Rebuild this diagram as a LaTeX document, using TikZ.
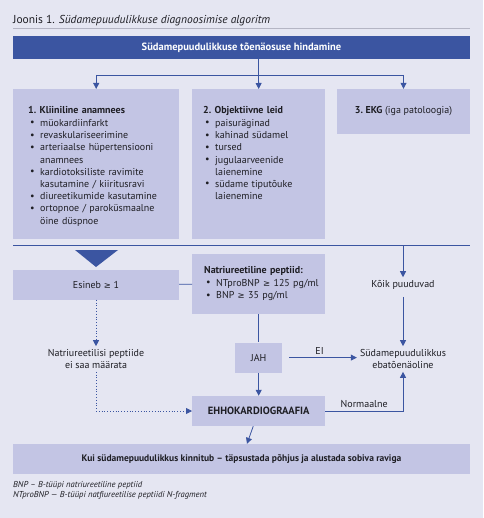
\documentclass[tikz,border=0pt]{standalone}
\usepackage{fontspec}
\setmainfont{PT Sans}
\newfontfamily\symfont{DejaVu Sans}
\usetikzlibrary{arrows.meta,positioning}
\definecolor{Page}{HTML}{E5E6F2}
\definecolor{Panel}{HTML}{C3C5E4}
\definecolor{Navy}{HTML}{3B55A1}
\definecolor{Ink}{HTML}{1E1E24}
\definecolor{Rule}{HTML}{B4B5C4}
\newcommand\bodysize{\fontsize{10}{12}\selectfont}
\newcommand\listsize{\fontsize{10}{12.2}\selectfont}
\newcommand\gte{{\symfont\fontsize{8.5}{12}\selectfont ≥}}
\newcommand\bul[1]{\noindent\hangindent=12pt\hangafter=1\makebox[12pt][l]{\hspace{2pt}\raisebox{0.6pt}{\textbullet}}#1\par}
\tikzset{
  headbar/.style={fill=Navy,text=white,font=\fontsize{10.5}{12}\selectfont\bfseries,minimum width=457pt,minimum height=23pt,inner sep=0pt},
  panel/.style={fill=Panel,anchor=north west,inner sep=0pt},
  box/.style={fill=Panel,font=\bodysize,text=Ink,align=center,inner sep=3pt},
  listtext/.style={anchor=north west,inner sep=0pt,text width=150pt,align=left,font=\listsize,text=Ink},
  plaintext/.style={font=\bodysize,text=Ink,align=center,inner sep=3pt},
  link/.style={draw=Navy,line width=0.8pt},
  arr/.style={link,-{Triangle[length=6pt,width=6pt]}},
  dotarr/.style={arr,dotted}
}

\begin{document}
\begin{tikzpicture}[x=1pt,y=-1pt,node distance=23pt]
  \fill[Page] (0,0) rectangle (483,518);
  \useasboundingbox (0,0) rectangle (483,518);
  \node[anchor=base west,inner sep=0pt,font=\fontsize{11.5}{12}\selectfont,text=Ink] (title) at (13,24) {Joonis 1. \textit{Südamepuudulikkuse diagnoosimise algoritm}};
  \draw[Rule,line width=0.6pt] (title.base west |- 0,28.5) -- (470,28.5);
  \node[headbar] (bar) at (241.5,47.5) {Südamepuudulikkuse tõenäosuse hindamine};
  % three entry boxes
  \node[panel,minimum width=166pt,minimum height=150pt] (anam) at (13,89) {};
  \node[panel,minimum width=133pt,minimum height=150pt] (obj) at (192,89) {};
  \node[box,minimum width=133pt,minimum height=45pt] (ekg) at (403.5,111.5) {\textbf{3.\ EKG} (iga patoloogia)};
  \node[listtext] (anamtext) at (28,106) {\textbf{1.\ Kliiniline anamnees}\par\vspace{1pt}
    \bul{müokardiinfarkt}
    \bul{revaskulariseerimine}
    \bul{arteriaalse hüpertensiooni\newline anamnees}
    \bul{kardiotoksiliste ravimite\newline kasutamine / kiiritusravi}
    \bul{diureetikumide kasutamine}
    \bul{ortopnoe / paroküsmaalne\newline öine düspnoe}};
  \node[listtext,text width=120pt] (objtext) at (203,106) {\textbf{2.\ Objektiivne leid}\par\vspace{1pt}
    \bul{paisuräginad}
    \bul{kahinad südamel}
    \bul{tursed}
    \bul{jugulaarveenide\newline laienemine}
    \bul{südame tiputõuke\newline laienemine}};
  \coordinate (split) at (258.5,75);
  \draw[link] (bar.south -| split) -- (split);
  \draw[link] (split -| anam.north) -- (split -| ekg.north);
  \draw[arr] (split -| anam.north) -- (anam.north);
  \draw[arr] (split) -- (obj.north);
  \draw[arr] (split -| ekg.north) -- (ekg.north);
  % lower half
  \coordinate (sepw) at (13,245.5);
  \coordinate (sepe) at (470,245.5);
  \draw[Navy,line width=1.8pt] (sepw) -- (sepe);
  \fill[Navy] (75,250) -- (118,250) -- (96,267) -- cycle;
  \node[box,minimum width=166pt,minimum height=30pt] (esineb) at (96,284.5) {Esineb \gte{} 1};
  \node[panel,minimum width=133pt,minimum height=60pt] (natri) at (192,254) {};
  \node[listtext,text width=120pt] (natritext) at (204,266) {\textbf{Natriureetiline peptiid:}\par\vspace{1pt}
    \bul{NTproBNP \gte{} 125 pg/ml}
    \bul{BNP \gte{} 35 pg/ml}};
  \node[box,minimum width=47pt,minimum height=30pt,below=28pt of natri] (jah) {JAH};
  \node[box,minimum width=133pt,minimum height=30pt,font=\fontsize{10.5}{12}\selectfont\bfseries,below=of jah] (echo) {EHHOKARDIOGRAAFIA};
  \node[box,minimum width=457pt,minimum height=30pt,font=\fontsize{9.5}{12}\selectfont\bfseries] (final) at (241.5,459) {Kui südamepuudulikkus kinnitub – täpsustada põhjus ja alustada sobiva raviga};
  \node[plaintext] (koik) at (403,285) {Kõik puuduvad};
  \node[plaintext] (ebat) at (403,359) {Südamepuudulikkus\\ebatõenäoline};
  \node[plaintext] (nopep) at (96,359) {Natriureetilisi peptiide\\ei saa määrata};
  \node[anchor=north west,inner sep=0pt,align=left,text=Ink,font=\fontsize{8.6}{10}\selectfont\itshape] (notes) at (13,481) {BNP – B-tüüpi natriureetiline peptiid\\NTproBNP — B-tüüpi natfiureetilise peptiidi N-fragment};
  \draw[arr] (sepe -| koik) -- (koik);
  \draw[arr,shorten <=4pt] (koik) -- (ebat);
  \draw[link] (esineb) -- (natri);
  \draw[dotarr] (esineb) -- (nopep);
  \draw[link] (natri) -- (jah);
  \draw[arr,shorten <=7pt] (jah.east) -- node[above,plaintext] (ei) {EI} (jah.east -| ebat.west);
  \draw[arr] (jah) -- (echo);
  \draw[dotarr] (nopep) |- (echo);
  \draw[arr] (echo) -| node[pos=0.25,above,plaintext] (norm) {Normaalne} (ebat);
  \draw[arr] (echo) -- (final);
\end{tikzpicture}
\end{document}
